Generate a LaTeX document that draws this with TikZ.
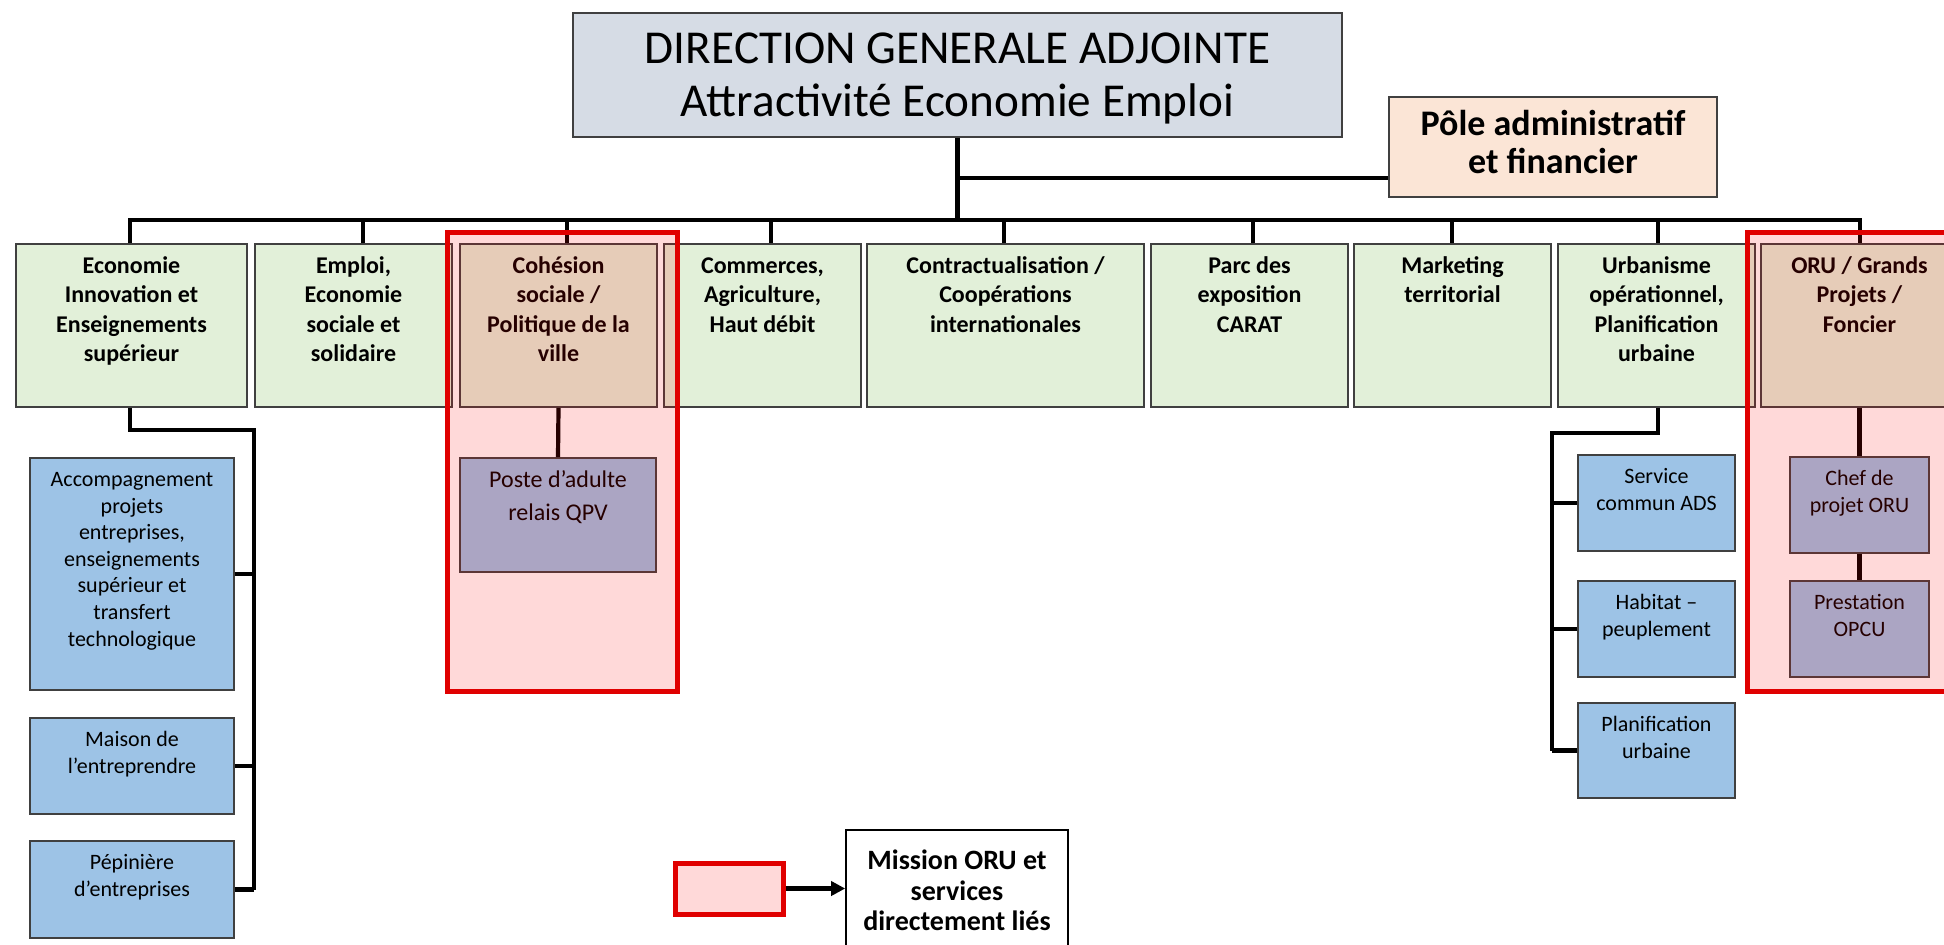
\documentclass[tikz,border=0pt]{standalone}
\usepackage{fontspec}
\setmainfont{Carlito}
\usetikzlibrary{fit,arrows.meta}
\definecolor{topfill}{HTML}{D6DCE5}
\definecolor{polefill}{HTML}{FBE5D6}
\definecolor{greenfill}{HTML}{E2F0D9}
\definecolor{bluefill}{HTML}{9DC3E6}
\definecolor{boxline}{HTML}{404040}
\definecolor{oruRed}{HTML}{E00000}
\definecolor{pinkfill}{HTML}{FFD9D9}
\newcommand\tst[1]{\rule{0pt}{#1pt}}
\begin{document}
\begin{tikzpicture}[x=0.5pt,y=-0.5pt,
  box/.style={draw=boxline, line width=0.9pt, inner sep=0pt},
  gbox/.style={box, fill=greenfill},
  bbox/.style={box, fill=bluefill},
  conn/.style={line width=2.1pt, black},
  txt/.style={align=center, anchor=north, inner sep=0pt},
  ttop/.style={txt, font=\fontsize{23.6}{26.5}\selectfont},
  tpole/.style={txt, font=\bfseries\fontsize{18}{19}\selectfont},
  tlev/.style={txt, font=\bfseries\fontsize{12}{14.7}\selectfont},
  tsub/.style={txt, font=\fontsize{11}{13.3}\selectfont},
  tposte/.style={txt, font=\fontsize{12}{16.5}\selectfont},
  tleg/.style={txt, font=\bfseries\fontsize{14}{15.2}\selectfont},
  overlay/.style={fill=red, fill opacity=0.15, draw=oruRed, draw opacity=1, line width=2.5pt, inner sep=0pt}
]
\clip (0,0) rectangle (1944,944);
\fill[white] (0,0) rectangle (1944,944);

% top level
\node[box, fill=topfill, fit={(573,13)(1342,137)}] (top) {};
\node[ttop] (topt) at ([yshift=-5.5pt]top.north) {\tst{20}DIRECTION GENERALE ADJOINTE\\Attractivité Economie Emploi};
\node[box, fill=polefill, fit={(1389,97)(1717,197)}] (pole) {};
\node[tpole] (polet) at ([yshift=-5.5pt]pole.north) {\tst{14}Pôle administratif\\et financier};

% level 2
\node[gbox, fit={(16,244)(247,407)}] (b1) {};
\node[gbox, fit={(255,244)(452,407)}] (b2) {};
\node[gbox, fit={(460,244)(657,407)}] (b3) {};
\node[gbox, fit={(664,244)(861,407)}] (b4) {};
\node[gbox, fit={(867,244)(1144,407)}] (b5) {};
\node[gbox, fit={(1151,244)(1348,407)}] (b6) {};
\node[gbox, fit={(1354,244)(1551,407)}] (b7) {};
\node[gbox, fit={(1558,244)(1755,407)}] (b8) {};
\node[gbox, fit={(1761,244)(1958,407)}] (b9) {};
\node[tlev] (b1t) at ([yshift=-5pt]b1.north) {\tst{10}Economie\\Innovation et\\Enseignements\\supérieur};
\node[tlev] (b2t) at ([yshift=-5pt]b2.north) {\tst{10}Emploi,\\Economie\\sociale et\\solidaire};
\node[tlev] (b3t) at ([yshift=-5pt]b3.north) {\tst{10}Cohésion\\sociale /\\Politique de la\\ville};
\node[tlev] (b4t) at ([yshift=-5pt]b4.north) {\tst{10}Commerces,\\Agriculture,\\Haut débit};
\node[tlev] (b5t) at ([yshift=-5pt]b5.north) {\tst{10}Contractualisation /\\Coopérations\\internationales};
\node[tlev] (b6t) at ([yshift=-5pt]b6.north) {\tst{10}Parc des\\exposition\\CARAT};
\node[tlev] (b7t) at ([yshift=-5pt]b7.north) {\tst{10}Marketing\\territorial};
\node[tlev] (b8t) at ([yshift=-5pt]b8.north) {\tst{10}Urbanisme\\opérationnel,\\Planification\\urbaine};
\node[tlev] (b9t) at ([yshift=-5pt]b9.north) {\tst{10}ORU / Grands\\Projets /\\Foncier};

% level 3
\node[bbox, fit={(30,458)(234,690)}] (c1) {};
\node[bbox, fit={(30,718)(234,814)}] (c2) {};
\node[bbox, fit={(30,841)(234,938)}] (c3) {};
\node[bbox, fit={(460,458)(656,572)}] (p1) {};
\node[bbox, fit={(1578,455)(1735,551)}] (u1) {};
\node[bbox, fit={(1578,581)(1735,677)}] (u2) {};
\node[bbox, fit={(1578,703)(1735,798)}] (u3) {};
\node[bbox, fit={(1790,457)(1929,553)}] (o1) {};
\node[bbox, fit={(1790,581)(1929,677)}] (o2) {};
\node[tsub] (c1t) at ([yshift=-4.5pt]c1.north) {\tst{10}Accompagnement\\projets\\entreprises,\\enseignements\\supérieur et\\transfert\\technologique};
\node[tsub] (c2t) at ([yshift=-4.5pt]c2.north) {\tst{10}Maison de\\l’entreprendre};
\node[tsub] (c3t) at ([yshift=-4.5pt]c3.north) {\tst{10}Pépinière\\d’entreprises};
\node[tposte] (p1t) at ([yshift=-5pt]p1.north) {\tst{10}Poste d’adulte\\relais QPV};
\node[tsub] (u1t) at ([yshift=-4.5pt]u1.north) {\tst{10}Service\\commun ADS};
\node[tsub] (u2t) at ([yshift=-4.5pt]u2.north) {\tst{10}Habitat –\\peuplement};
\node[tsub] (u3t) at ([yshift=-4.5pt]u3.north) {\tst{10}Planification\\urbaine};
\node[tsub] (o1t) at ([yshift=-4.5pt]o1.north) {\tst{10}Chef de\\projet ORU};
\node[tsub] (o2t) at ([yshift=-4.5pt]o2.north) {\tst{10}Prestation\\OPCU};

% connectors
\coordinate (db1) at (130,220);
\coordinate (db2) at (363,220);
\coordinate (db3) at (567,220);
\coordinate (db4) at (771,220);
\coordinate (db5) at (1004,220);
\coordinate (db6) at (1253,220);
\coordinate (db7) at (1452,220);
\coordinate (db8) at (1658,220);
\coordinate (db9) at (1860,220);
\draw[conn] (db1 |- b1.north) -- (db1) -- (db9) -- (db9 |- b9.north);
\foreach \n in {2,...,8} \draw[conn] (db\n) -- (db\n |- b\n.north);
\draw[conn] (top.south) -- (top.south |- db1);
\coordinate (pj) at (959,178);
\draw[conn] (pj) -- (pj -| pole.west);

\coordinate (j1a) at (130,430);
\coordinate (j1b) at (254,430);
\draw[conn] (db1 |- b1.south) -- (j1a) -- (j1b) -- (j1b |- c3.east);
\foreach \n in {c1,c2,c3} \draw[conn] (\n.east) -- (\n.east -| j1b);

\coordinate (j8a) at (1658,433);
\coordinate (j8b) at (1552,433);
\draw[conn] (db8 |- b8.south) -- (j8a) -- (j8b) -- (j8b |- u3.west);
\foreach \n in {u1,u2,u3} \draw[conn] (\n.west) -- (\n.west -| j8b);

\draw[conn] (b3.south) -- (p1.north);
\draw[conn] (b9.south) -- (o1.north);
\draw[conn] (o1.south) -- (o2.north);

% overlays
\node[overlay, fit={(447,232)(677,691)}] (m1) {};
\node[overlay, fit={(1747,232)(1975,691)}] (m2) {};

% legend
\node[fit={(675,863)(783,914)}, fill=pinkfill, draw=oruRed, line width=2.5pt, inner sep=0pt] (lg1) {};
\node[fit={(846,830)(1068,965)}, draw=black, line width=0.8pt, inner sep=0pt] (lg2) {};
\node[tleg] (lg2t) at ([yshift=-8pt]lg2.north) {\tst{12}Mission ORU et\\services\\directement liés};
\draw[conn, -{Triangle[length=7pt,width=7pt]}] (lg1.east) -- (lg1.east -| lg2.west);
\end{tikzpicture}
\end{document}
